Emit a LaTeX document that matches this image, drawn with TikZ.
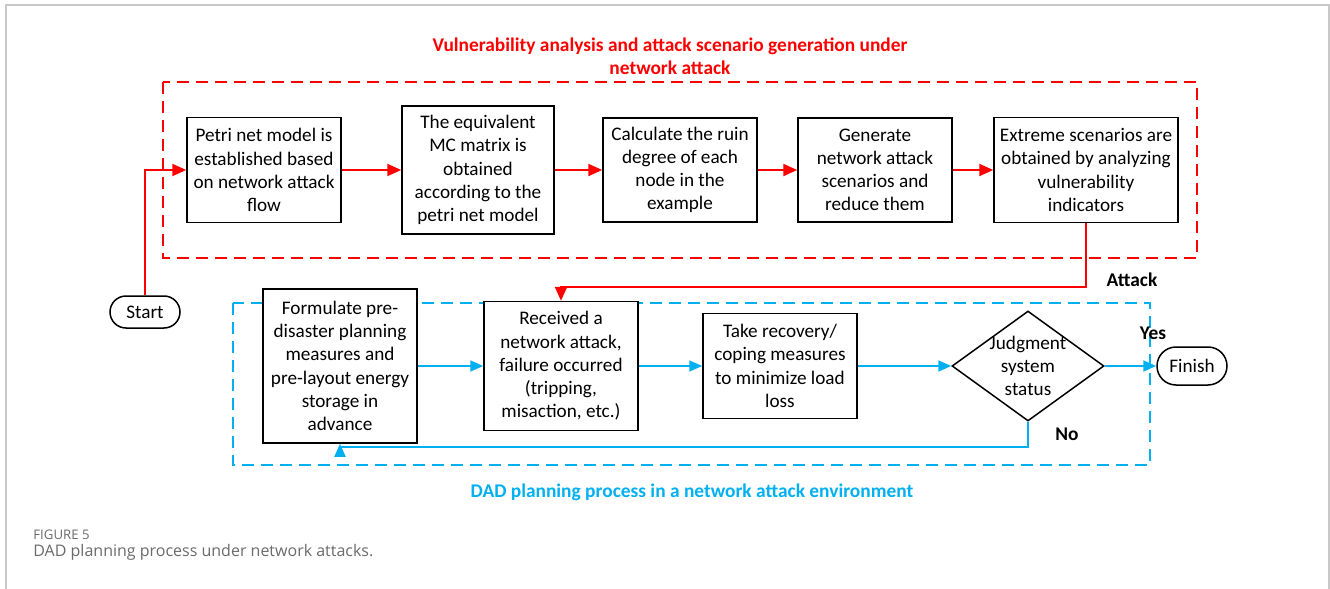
\documentclass[tikz,border=0pt]{standalone}
\usepackage{fontspec}
\setmainfont{Carlito}
\newfontfamily\capfont{Open Sans}
\usetikzlibrary{arrows.meta,shapes.geometric,shapes.misc}
\definecolor{dadblue}{HTML}{00B0F0}
\definecolor{pagegray}{HTML}{C8C8C8}
\definecolor{capgray}{HTML}{6A6A6A}
\tikzset{
  stepbox/.style={draw=black, line width=0.75pt, fill=white, align=center, inner sep=0pt,
    font=\fontsize{9.6pt}{11.6pt}\selectfont},
  terminal/.style={draw=black, line width=0.75pt, fill=white, rounded rectangle, inner sep=0pt,
    font=\fontsize{9.6pt}{11.6pt}\selectfont},
  redline/.style={draw=red, line width=1.1pt},
  redarrow/.style={redline, -{Triangle[length=7pt,width=6pt]}},
  blueline/.style={draw=dadblue, line width=0.85pt},
  bluearrow/.style={blueline, -{Triangle[length=6.5pt,width=5.5pt]}},
  lbl/.style={font=\fontsize{9.7pt}{11.6pt}\selectfont\bfseries, inner sep=0pt, align=center},
}
\begin{document}
\begin{tikzpicture}[x=0.5pt,y=-0.5pt]
\useasboundingbox (0,0) rectangle (1330,589);
% page frame
\draw[pagegray, line width=0.75pt] (6,589) -- (6,5) -- (1329,5) -- (1329,589);

% titles
\node[lbl, text=red] (t1) at (670,56) {Vulnerability analysis and attack scenario generation under\\network attack};
\node[lbl, text=dadblue] (t2) at (692,492) {DAD planning process in a network attack environment};

% dashed frames
\draw[red, line width=1.1pt, dash pattern=on 6pt off 3.5pt] (163,82) rectangle (1197,258);
\draw[dadblue, line width=0.85pt, dash pattern=on 6pt off 3.5pt] (233,303) rectangle (1150,465);

% top row
\node[stepbox, minimum width=77pt, minimum height=52.5pt] (B1) at (264,170) {Petri net model is\\established based\\on network attack\\flow};
\node[stepbox, minimum width=76pt, minimum height=64pt] (B2) at (478,170) {The equivalent\\MC matrix is\\obtained\\according to the\\petri net model};
\node[stepbox, minimum width=77pt, minimum height=52pt] (B3) at (680,170) {Calculate the ruin\\degree of each\\node in the\\example};
\node[stepbox, minimum width=77pt, minimum height=52pt] (B4) at (875,170) {Generate\\network attack\\scenarios and\\reduce them};
\node[stepbox, minimum width=92pt, minimum height=52.5pt] (B5) at (1086,170) {Extreme scenarios are\\obtained by analyzing\\vulnerability\\indicators};

% bottom row
\node[stepbox, minimum width=77pt, minimum height=77pt] (L1) at (340,366) {Formulate pre-\\disaster planning\\measures and\\pre-layout energy\\storage in\\advance};
\node[stepbox, minimum width=77pt, minimum height=64.5pt] (L2) at (561,366) {Received a\\network attack,\\failure occurred\\(tripping,\\misaction, etc.)};
\node[stepbox, minimum width=77pt, minimum height=52.5pt] (L3) at (780,366) {Take recovery/\\coping measures\\to minimize load\\loss};
\node[draw=black, line width=0.75pt, fill=white, diamond, inner sep=0pt, aspect=1.38,
  minimum width=76pt, minimum height=55pt] (D) at (1028,366) {};
\node[align=center, inner sep=0pt, font=\fontsize{9.6pt}{11.6pt}\selectfont] (Dt) at (1028,366) {Judgment\\system\\status};

% terminals
\node[terminal, minimum width=35pt, minimum height=16pt] (S) at (145,312) {Start};
\node[terminal, minimum width=35pt, minimum height=19pt] (F) at (1192,366) {Finish};

% red connectors
\draw[redarrow] (S.north) |- (B1.west);
\draw[redarrow] (B1) -- (B2);
\draw[redarrow] (B2) -- (B3);
\draw[redarrow] (B3) -- (B4);
\draw[redarrow] (B4) -- (B5);
\coordinate (a1) at (1086,287);
\draw[redarrow] (B5.south) -- (a1) -| (L2.north);

% blue connectors
\draw[bluearrow] (L1) -- (L2);
\draw[bluearrow] (L2) -- (L3);
\draw[bluearrow] (L3) -- (D.west);
\draw[bluearrow] (D.east) -- (F.west);
\coordinate (n1) at (1028,447);
\draw[bluearrow] (D.south) -- (n1) -| (L1.south);

% labels
\node[lbl] (atk) at (1132,280) {Attack};
\node[lbl] (yes) at (1153,333) {Yes};
\node[lbl] (no) at (1067,434) {No};

% caption
\node[anchor=west, inner sep=0pt, text=capgray, font=\capfont\fontsize{6.6pt}{8pt}\selectfont] (c1) at (33,535) {FIGURE 5};
\node[anchor=west, inner sep=0pt, text=capgray, font=\capfont\fontsize{8pt}{10pt}\selectfont] (c2) at (33,552) {DAD planning process under network attacks.};
\end{tikzpicture}
\end{document}
